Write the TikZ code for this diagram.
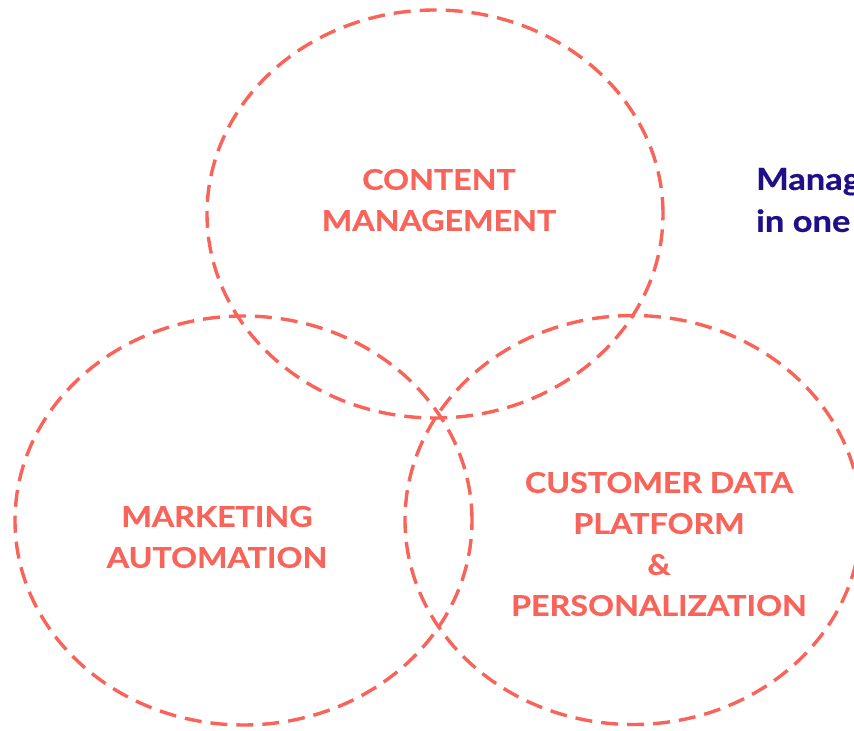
\documentclass[tikz,border=0pt]{standalone}
\usepackage{fontspec}
\setmainfont{Lato}[FakeStretch=1.13,BoldFeatures={FakeBold=0.6}]
\definecolor{coral}{HTML}{F8635A}
\definecolor{indigo}{HTML}{1F0F88}
\tikzset{
  ring/.style={draw=coral,line width=3.4bp,dash pattern=on 17bp off 9bp},
  label/.style={text=coral,font=\bfseries\fontsize{28.5bp}{41bp}\selectfont,align=center,inner sep=0pt},
  side/.style={text=indigo,font=\bfseries\fontsize{30.5bp}{42bp}\selectfont,align=left,inner sep=0pt,anchor=west},
}
\begin{document}
\begin{tikzpicture}[line join=bevel,]
\clip (0bp,0bp) rectangle (854bp,731bp);
%%
\draw [ring] (435bp,517bp) ellipse [x radius=228bp,y radius=204bp];
\draw [ring] (243.5bp,210.5bp) ellipse [x radius=228.5bp,y radius=204.5bp];
\draw [ring] (633bp,211bp) ellipse [x radius=228bp,y radius=204.5bp];
%
\node (node_0) at (439bp,531bp) [label] {CONTENT\\MANAGEMENT};
\node (node_1) at (217bp,194bp) [label] {MARKETING\\AUTOMATION};
\node (node_2) at (659bp,187bp) [label] {CUSTOMER DATA\\PLATFORM\\\&\\PERSONALIZATION};
\node (node_3) at (756bp,531bp) [side] {Manag\\in one};
%
\end{tikzpicture}
\end{document}
